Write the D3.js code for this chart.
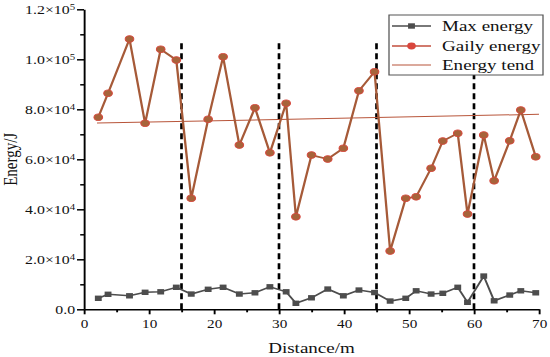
<!DOCTYPE html>
<html lang="en">
<head>
<meta charset="UTF-8">
<title>Energy vs distance</title>
<script src="https://d3js.org/d3.v7.min.js"></script>
<style>
  body { margin: 0; background: #fff; }
  svg { display: block; }
  text { font-family: "Liberation Serif", "Times New Roman", serif; fill: #111; }
</style>
</head>
<body>
<div id="chart"></div>
<script>
// values
const distance = [2.2, 3.7, 7.0, 9.4, 11.8, 14.2, 16.5, 19.1, 21.4, 23.9, 26.3, 28.6, 31.1, 32.6, 35.0, 37.5, 39.9, 42.3, 44.7, 47.1, 49.5, 51.1, 53.4, 55.2, 57.5, 59.0, 61.5, 63.1, 65.5, 67.2, 69.5];
const maxEnergy = [4400, 6000, 5400, 6800, 7000, 8800, 6100, 8000, 8800, 6100, 6600, 9000, 7000, 2400, 4600, 8100, 5400, 7700, 6700, 3300, 4400, 7400, 6100, 6400, 8800, 2800, 13300, 3400, 5700, 7400, 6600];
const gailyEnergy = [76800, 86400, 108100, 74400, 104000, 99700, 44400, 76000, 101000, 65700, 80600, 62600, 82400, 37000, 61700, 60100, 64400, 87400, 95000, 23300, 44400, 45000, 56400, 67300, 70400, 38100, 69700, 51400, 67400, 79700, 61000];
const trendX = [2, 70];
const trendY = [74500, 78000];
const sectionBounds = [15, 30, 45, 60];
const sectionTop = 106500;
const xTicks = [0, 10, 20, 30, 40, 50, 60, 70];
const xMinorTicks = [5, 15, 25, 35, 45, 55, 65];
const yTicks = [0, 20000, 40000, 60000, 80000, 100000, 120000];
const yMinorTicks = [10000, 30000, 50000, 70000, 90000, 110000];
const yTickMantissa = ["0.0", "2.0", "4.0", "6.0", "8.0", "1.0", "1.2"];
const yTickExponent = ["", "4", "4", "4", "4", "5", "5"];
const seriesNames = ["Max energy", "Gaily energy", "Energy tend"];

// the source figure is stretched sideways, so draw in a narrower viewBox
const sx = 1.27, W = 550, H = 357;
const svg = d3.select("#chart").append("svg")
    .attr("width", W).attr("height", H)
    .attr("viewBox", `0 0 ${W / sx} ${H}`)
    .attr("preserveAspectRatio", "none");

const x = d3.scaleLinear().domain([0, 70]).range([84 / sx, 539 / sx]);
const y = d3.scaleLinear().domain([0, 120000]).range([309.3, 9.3]);

const grayCol = "#4d4d4d", lineCol = "#a65a38", dotFill = "#a7633a", dotStroke = "#d9463d", trendCol = "#b8553a";

// section boundaries
svg.append("g").selectAll("line").data(sectionBounds).join("line")
    .attr("x1", d => x(d)).attr("x2", d => x(d))
    .attr("y1", y(0)).attr("y2", y(sectionTop))
    .attr("stroke", "#000").attr("stroke-width", 2.1)
    .attr("stroke-dasharray", "6,4");

// axes
const xAxis = svg.append("g").attr("transform", `translate(0,${y(0)})`)
    .call(d3.axisBottom(x).tickValues(xTicks).tickSize(5).tickSizeOuter(0).tickPadding(5));
svg.append("g").attr("transform", `translate(0,${y(0)})`)
    .call(d3.axisBottom(x).tickValues(xMinorTicks).tickSize(3).tickFormat(""))
    .call(g => g.select(".domain").remove());
const yAxis = svg.append("g").attr("transform", `translate(${x(0)},0)`)
    .call(d3.axisLeft(y).tickValues(yTicks).tickSize(5.5).tickSizeOuter(0).tickPadding(1.5).tickFormat(""));
svg.append("g").attr("transform", `translate(${x(0)},0)`)
    .call(d3.axisLeft(y).tickValues(yMinorTicks).tickSize(3).tickFormat(""))
    .call(g => g.select(".domain").remove());

svg.selectAll(".domain, .tick line").attr("stroke", "#000").attr("stroke-width", 1.5);
xAxis.selectAll("text").attr("font-size", 12).attr("font-family", null).attr("fill", "#111");

yAxis.selectAll(".tick text").each(function (d, i) {
    const t = d3.select(this).attr("font-size", 12.5).attr("font-family", null).attr("fill", "#111");
    t.text(yTickMantissa[i] + (yTickExponent[i] ? "×10" : ""));
    if (yTickExponent[i]) t.append("tspan").attr("dy", "-0.45em").attr("font-size", 8.5).text(yTickExponent[i]);
});

// axis titles
svg.append("text").attr("x", (x(0) + x(70)) / 2).attr("y", 353)
    .attr("text-anchor", "middle").attr("font-size", 15).text("Distance/m");
svg.append("text").attr("transform", `translate(13,${(y(0) + y(120000)) / 2}) rotate(-90)`)
    .attr("text-anchor", "middle").attr("font-size", 15).text("Energy/J");

// trend line
svg.append("line")
    .attr("x1", x(trendX[0])).attr("x2", x(trendX[1]))
    .attr("y1", y(trendY[0])).attr("y2", y(trendY[1]))
    .attr("stroke", trendCol).attr("stroke-width", 1);

// max energy
svg.append("path").datum(distance)
    .attr("fill", "none").attr("stroke", grayCol).attr("stroke-width", 1.6)
    .attr("d", d3.line().x(d => x(d)).y((d, i) => y(maxEnergy[i])));
const sq = 5.4;
svg.append("g").selectAll("rect").data(distance).join("rect")
    .attr("x", d => x(d) - sq / 2).attr("y", (d, i) => y(maxEnergy[i]) - sq / 2)
    .attr("width", sq).attr("height", sq).attr("fill", grayCol);

// gaily energy
svg.append("path").datum(distance)
    .attr("fill", "none").attr("stroke", lineCol).attr("stroke-width", 1.8)
    .attr("d", d3.line().x(d => x(d)).y((d, i) => y(gailyEnergy[i])));
svg.append("g").selectAll("circle").data(distance).join("circle")
    .attr("cx", d => x(d)).attr("cy", (d, i) => y(gailyEnergy[i])).attr("r", 3.4)
    .attr("fill", dotFill).attr("stroke", dotStroke).attr("stroke-width", 0.8);

// legend
const lg = svg.append("g");
lg.append("rect").attr("x", 389 / sx).attr("y", 15).attr("width", 154 / sx).attr("height", 60)
    .attr("fill", "#fff").attr("stroke", "#555").attr("stroke-width", 1);
const rowY = [26, 46, 65];
const l0 = 392 / sx, l1 = 431 / sx, lm = (l0 + l1) / 2;
seriesNames.forEach((name, i) => {
    const col = i === 0 ? grayCol : i === 1 ? "#c24e3c" : trendCol;
    lg.append("line").attr("x1", l0).attr("x2", l1).attr("y1", rowY[i]).attr("y2", rowY[i])
        .attr("stroke", col).attr("stroke-width", i === 2 ? 1 : 1.6);
    if (i === 0) lg.append("rect").attr("x", lm - sq / 2).attr("y", rowY[i] - sq / 2)
        .attr("width", sq).attr("height", sq).attr("fill", grayCol);
    if (i === 1) lg.append("circle").attr("cx", lm).attr("cy", rowY[i]).attr("r", 3.4)
        .attr("fill", dotStroke);
    lg.append("text").attr("x", 442 / sx).attr("y", rowY[i]).attr("dy", "0.33em")
        .attr("font-size", 15).text(name);
});
</script>
</body>
</html>
